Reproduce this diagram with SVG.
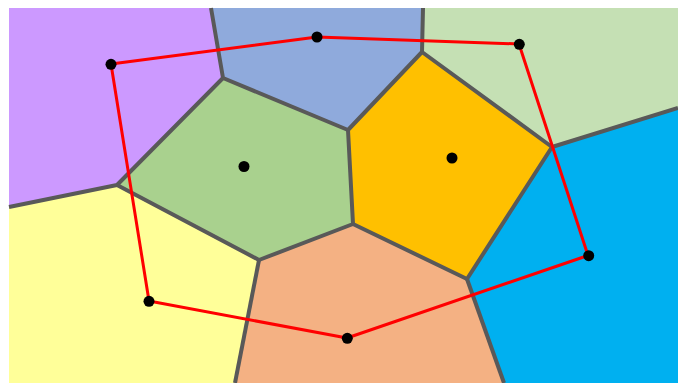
<svg xmlns="http://www.w3.org/2000/svg" width="678" height="383" viewBox="0 0 678 383">
<style>
.edge{fill:none;stroke:#595959;stroke-width:4;stroke-linejoin:round;stroke-linecap:butt}
.link{fill:none;stroke:#ff0000;stroke-width:3;stroke-linejoin:round}
.site{fill:#000000}
</style>
<rect width="678" height="383" fill="#ffffff"/>
<g id="cells">
<g id="cell-purple"><polygon points="9,8 211,8 223,78 117,185 9,207" fill="#cc99ff"/></g>
<g id="cell-blue"><polygon points="211,8 423,8 422,52 348,130 223,78" fill="#8faadc"/></g>
<g id="cell-lightgreen"><polygon points="423,8 678,8 678,108 552,147 422,52" fill="#c5e0b4"/></g>
<g id="cell-green"><polygon points="223,78 348,130 353,224 259,260 117,185" fill="#a9d18e"/><circle class="site" cx="244" cy="166.5" r="5.5"/></g>
<g id="cell-orange"><polygon points="422,52 552,147 467,279 353,224 348,130" fill="#ffc000"/><circle class="site" cx="452" cy="158" r="5.5"/></g>
<g id="cell-cyan"><polygon points="552,147 678,108 678,383 504,383 467,279" fill="#00b0f0"/></g>
<g id="cell-salmon"><polygon points="259,260 353,224 467,279 504,383 235,383" fill="#f4b183"/></g>
<g id="cell-yellow"><polygon points="9,207 117,185 259,260 235,383 9,383" fill="#ffff99"/></g>
</g>
<g id="edges">
<polyline class="edge" points="211,8 223,78 348,130 422,52 423,8"/>
<polyline class="edge" points="9,207 117,185 223,78"/>
<polyline class="edge" points="117,185 259,260 353,224 348,130"/>
<polyline class="edge" points="422,52 552,147 678,108"/>
<polyline class="edge" points="552,147 467,279 353,224"/>
<polyline class="edge" points="259,260 235,383"/>
<polyline class="edge" points="467,279 504,383"/>
</g>
<g id="connectors">
<polygon class="link" points="111,64 317,37 519,44 588,255.5 347,338 149,301"/>
</g>
<g id="sites">
<circle class="site" cx="111" cy="64.3" r="5.5"/>
<circle class="site" cx="317" cy="37" r="5.5"/>
<circle class="site" cx="519.3" cy="44.3" r="5.5"/>
<circle class="site" cx="588.7" cy="255.7" r="5.5"/>
<circle class="site" cx="347.3" cy="338.3" r="5.5"/>
<circle class="site" cx="149" cy="301.3" r="5.5"/>
</g>
</svg>
